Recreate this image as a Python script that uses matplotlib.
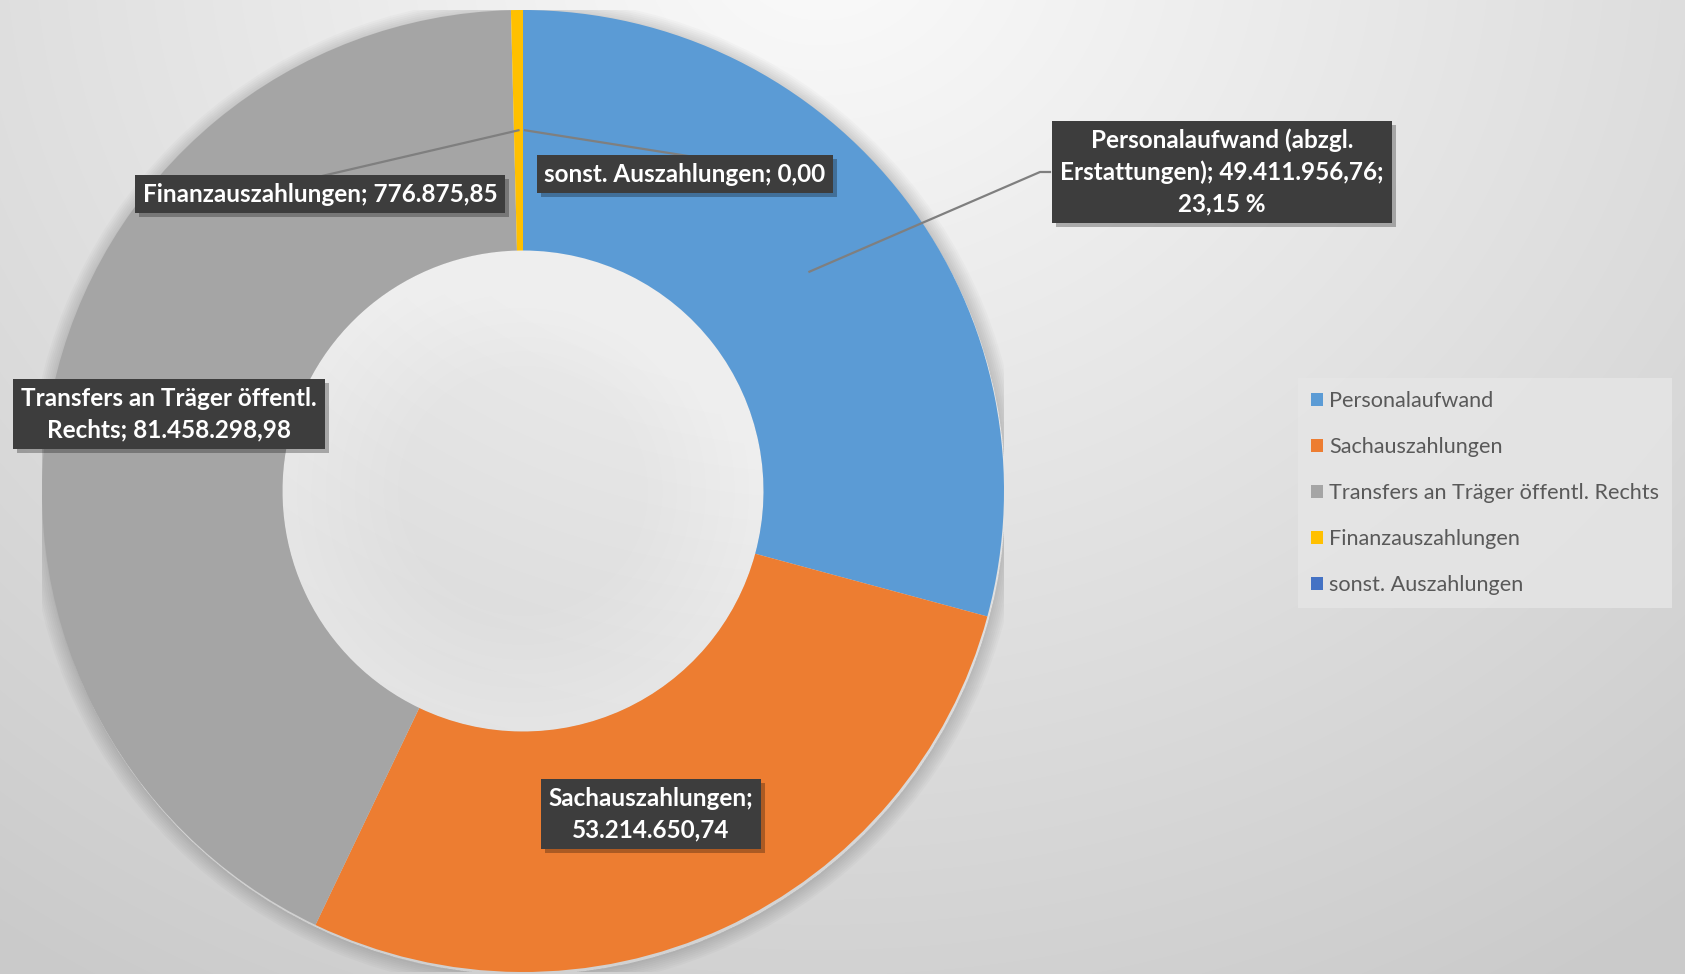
import numpy as np
import matplotlib.pyplot as plt
from matplotlib.patches import Patch, Wedge
import matplotlib.transforms as mtransforms

# legend names and data label texts
categories = ['Personalaufwand', 'Sachauszahlungen', 'Transfers an Träger öffentl. Rechts',
              'Finanzauszahlungen', 'sonst. Auszahlungen']
label_texts = ['Personalaufwand (abzgl.\nErstattungen); 49.411.956,76;\n23,15 %',
               'Sachauszahlungen;\n53.214.650,74',
               'Transfers an Träger öffentl.\nRechts; 81.458.298,98',
               'Finanzauszahlungen; 776.875,85',
               'sonst. Auszahlungen; 0,00']
# share of the ring per slice (%)
slice_share = [29.2, 27.9, 42.5, 0.4, 0.0]
colors = ['#5B9BD5', '#ED7D31', '#A5A5A5', '#FFC000', '#4472C4']

W, H = 1685, 974
fig = plt.figure(figsize=(W / 100, H / 100), dpi=100)
plt.rcParams['font.family'] = ['Lato', 'DejaVu Sans']

# background: soft radial gradient
bg = fig.add_axes([0, 0, 1, 1])
yy, xx = np.mgrid[0:H, 0:W]
d = np.sqrt((xx - 820) ** 2 + ((yy + 60) * 1.15) ** 2) / 1400
d = np.clip(d, 0, 1)
shade = 0.985 - 0.19 * d
bg.imshow(np.dstack([shade] * 3), extent=[0, W, H, 0], aspect='auto')
bg.set_axis_off()

# pie axes: centre (523, 491), radius 481 px
cx, cy, R = 523, 491, 481
ax = fig.add_axes([(cx - R) / W, (H - cy - R) / H, 2 * R / W, 2 * R / H])
ax.set_facecolor('none')

# faint shadow outside the ring, soft light glow inside the hole
for k in range(1, 9):
    ax.add_patch(Wedge((0.003, -0.006), 1.0 + k * 0.004, 0, 360, width=k * 0.004,
                       color='black', alpha=0.02, lw=0, zorder=0))
    ax.add_patch(Wedge((0, 0), 0.5, 0, 360, width=k * 0.03,
                       color='white', alpha=0.06, lw=0, zorder=0))

vals = np.array(slice_share) + 1e-9
wedges, _ = ax.pie(vals, colors=colors, startangle=90, counterclock=False, radius=1.0,
                   wedgeprops=dict(width=0.5, linewidth=0))
ax.set_xlim(-1, 1)
ax.set_ylim(-1, 1)
ax.set_aspect('equal')
ax.set_axis_off()


def px(x, y):
    return (x - cx) / R, (cy - y) / R


# mid angle of each slice (clockwise from top) for leader lines
ends = np.cumsum(vals) / vals.sum() * 360
starts = ends - vals / vals.sum() * 360
mids = np.radians((starts + ends) / 2)
anchor = [(0.75 * np.sin(m), 0.75 * np.cos(m)) for m in mids]

line_kw = dict(color='#7f7f7f', lw=1.6, zorder=3, clip_on=False)
# Personalaufwand leader
ex, ey = px(1040, 172)
bx, by = px(1050, 172)
ax.plot([anchor[0][0], ex, bx], [anchor[0][1], ey, by], **line_kw)
# Finanzauszahlungen leader
fx, fy = px(322, 176)
ax.plot([anchor[3][0], fx], [anchor[3][1], fy], **line_kw)
# sonst. leader
sx, sy = px(688, 156)
ax.plot([anchor[4][0] + 0.004, sx], [anchor[4][1], sy], **line_kw)

label_pos = [(1222, 172), (651, 814), (169, 414), (320, 194), (685, 174)]
fs = 17.5
for txt, (lx, ly) in zip(label_texts, label_pos):
    x, y = px(lx, ly)
    shadow_tr = ax.transData + mtransforms.ScaledTranslation(4 / 100, -4 / 100, fig.dpi_scale_trans)
    ax.text(x, y, txt, transform=shadow_tr, ha='center', va='center', fontsize=fs,
            fontweight='bold', color='none', linespacing=1.42, zorder=4,
            bbox=dict(boxstyle='square,pad=0.32', fc='black', ec='none', alpha=0.28))
    ax.text(x, y, txt, ha='center', va='center', fontsize=fs, fontweight='bold',
            color='white', linespacing=1.42, zorder=5,
            bbox=dict(boxstyle='square,pad=0.32', fc='#3d3d3d', ec='none'))

handles = [Patch(facecolor=c, edgecolor='none') for c in colors]
leg = fig.legend(handles, categories, loc='upper left', bbox_to_anchor=(1298 / W, 1 - 378 / H),
                 borderaxespad=0, fontsize=15.6, frameon=True, fancybox=False,
                 handlelength=0.55, handleheight=0.55, handletextpad=0.3,
                 labelspacing=1.2, borderpad=0.6)
leg.get_frame().set_facecolor('#e6e6e6')
leg.get_frame().set_edgecolor('none')
leg.get_frame().set_alpha(0.8)
for t in leg.get_texts():
    t.set_color('#595959')

fig.savefig('out.png', dpi=100)
